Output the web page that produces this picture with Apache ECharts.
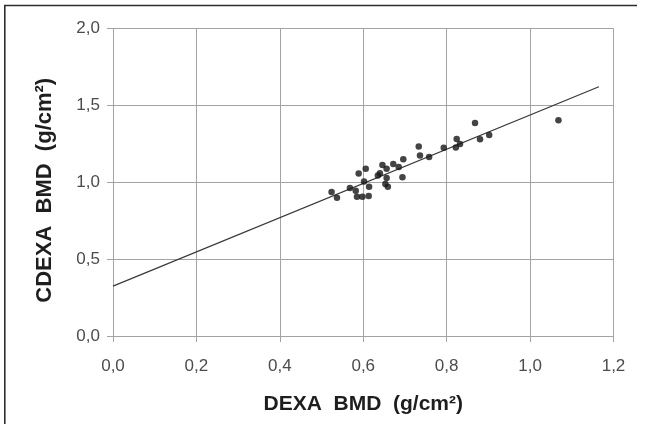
<!DOCTYPE html>
<html>
<head>
<meta charset="utf-8">
<title>CDEXA vs DEXA BMD</title>
<script src="https://cdn.jsdelivr.net/npm/echarts@6/dist/echarts.min.js"></script>
<style>
  html, body { margin: 0; padding: 0; background: #ffffff; }
  #chart { width: 647px; height: 424px; }
</style>
</head>
<body>
<div id="chart"></div>
<script>
// Bone mineral density per subject: DEXA (x) against CDEXA (y), g/cm²
const dexaBMD = [
  0.524, 0.537, 0.568, 0.582, 0.585, 0.598, 0.613, 0.589, 0.606, 0.602,
  0.614, 0.635, 0.640, 0.646, 0.656, 0.656, 0.653, 0.659, 0.672, 0.685,
  0.696, 0.694, 0.733, 0.736, 0.758, 0.793, 0.824, 0.822, 0.832, 0.868,
  0.880, 0.902, 1.068
];
const cdexaBMD = [
  0.936, 0.900, 0.962, 0.944, 0.905, 0.905, 0.910, 1.057, 1.087, 1.005,
  0.970, 1.044, 1.059, 1.113, 1.087, 1.027, 0.988, 0.970, 1.118, 1.100,
  1.150, 1.033, 1.232, 1.174, 1.165, 1.224, 1.282, 1.226, 1.248, 1.386,
  1.280, 1.308, 1.404
];

// Fitted regression line, drawn between its two end points
const fitX = [0.0, 1.165];
const fitY = [0.325, 1.621];

// Axis tick labels (comma decimal separator)
const xTickLabels = ['0,0', '0,2', '0,4', '0,6', '0,8', '1,0', '1,2'];
const yTickLabels = ['0,0', '0,5', '1,0', '1,5', '2,0'];

const xTitle = 'DEXA  BMD  (g/cm²)';
const yTitle = 'CDEXA  BMD  (g/cm²)';

const points = dexaBMD.map((x, i) => [x, cdexaBMD[i]]);
const fitLine = fitX.map((x, i) => [x, fitY[i]]);

const gridColor = '#a3a3a3';
const fontFamily = 'Liberation Sans, Arial, sans-serif';
const tickFont = { fontFamily, fontSize: 17, color: '#4c4c4c' };
const titleStyle = size => ({ fontFamily, fontSize: size, fontWeight: 'bold', color: '#1e1e1e' });

const chart = echarts.init(document.getElementById('chart'), null, { renderer: 'canvas' });

chart.setOption({
  backgroundColor: '#ffffff',
  animation: false,
  grid: {
    left: 113, right: 33.5, top: 28.5, bottom: 88,
    containLabel: false,
    outerBoundsMode: 'none'
  },
  xAxis: {
    type: 'value',
    min: 0, max: 1.2, interval: 0.2,
    name: xTitle,
    nameLocation: 'middle',
    nameGap: 58,
    nameTextStyle: titleStyle(21),
    axisLine: { show: true, onZero: false, lineStyle: { color: gridColor, width: 1 } },
    axisTick: { show: true, inside: false, length: 6, lineStyle: { color: gridColor, width: 1 } },
    axisLabel: Object.assign({
      margin: 22,
      formatter: v => xTickLabels[Math.round(v / 0.2)]
    }, tickFont),
    splitLine: { show: true, lineStyle: { color: gridColor, width: 1 } }
  },
  yAxis: {
    type: 'value',
    min: 0, max: 2, interval: 0.5,
    name: yTitle,
    nameLocation: 'middle',
    nameGap: 57,
    nameRotate: 90,
    nameTextStyle: Object.assign({ padding: [0, 16, 0, 0] }, titleStyle(22)),
    axisLine: { show: true, onZero: false, lineStyle: { color: gridColor, width: 1 } },
    axisTick: { show: true, inside: false, length: 6, lineStyle: { color: gridColor, width: 1 } },
    axisLabel: Object.assign({
      margin: 13,
      formatter: v => yTickLabels[Math.round(v / 0.5)]
    }, tickFont),
    splitLine: { show: true, lineStyle: { color: gridColor, width: 1 } }
  },
  series: [
    {
      name: 'Regression',
      type: 'line',
      data: fitLine,
      symbol: 'none',
      silent: true,
      z: 2,
      lineStyle: { color: '#3a3a3a', width: 1.3 }
    },
    {
      name: 'Subjects',
      type: 'scatter',
      data: points,
      symbol: 'circle',
      symbolSize: 6.5,
      z: 3,
      itemStyle: { color: '#151515' }
    }
  ],
  graphic: [
    // frame rules along the top and left edges
    { type: 'line', shape: { x1: 4, y1: 5.5, x2: 637, y2: 5.5 }, style: { stroke: '#2e2e2e', lineWidth: 1.6 }, silent: true },
    { type: 'line', shape: { x1: 4.8, y1: 5, x2: 4.8, y2: 424 }, style: { stroke: '#2e2e2e', lineWidth: 1.6 }, silent: true }
  ]
});
</script>
</body>
</html>
